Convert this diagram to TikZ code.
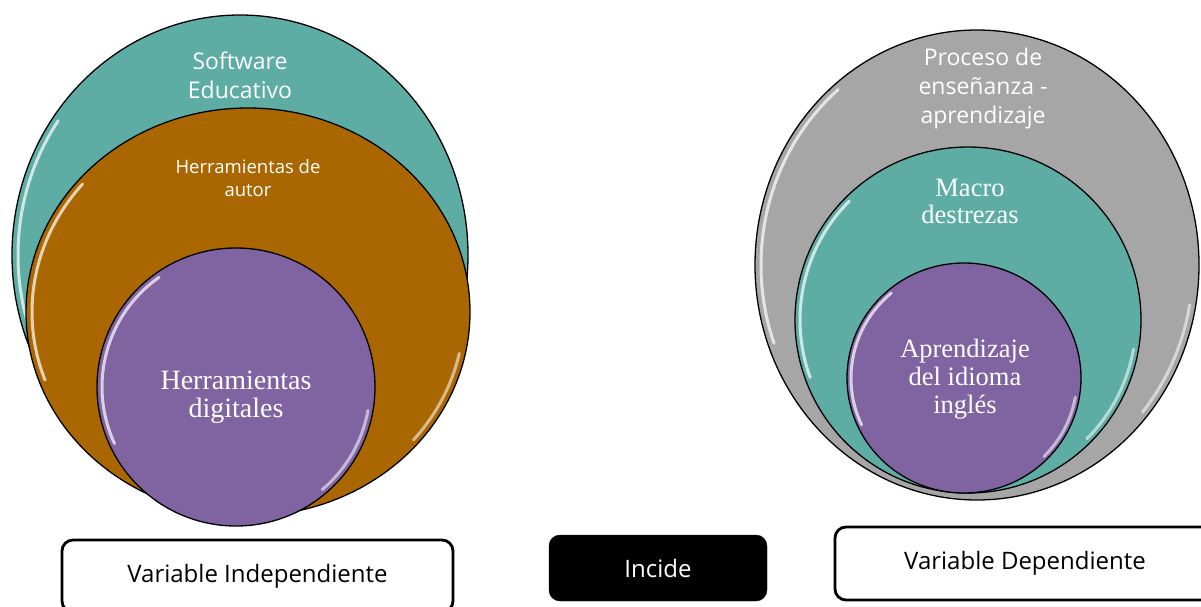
\documentclass[tikz,border=0pt]{standalone}
\usepackage{fontspec}
\setmainfont{Liberation Serif}
\setsansfont{Open Sans}
\usetikzlibrary{shapes.geometric}
\definecolor{tealc}{HTML}{5EADA5}
\definecolor{brownc}{HTML}{AA6600}
\definecolor{purplec}{HTML}{8064A2}
\definecolor{grayc}{HTML}{A6A6A6}
\begin{document}
\begin{tikzpicture}[x=1pt,y=-1pt,
  bubble/.style={ellipse, draw=black, line width=1.3pt, inner sep=0pt},
  sanslbl/.style 2 args={font=\sffamily\fontsize{#1}{#2}\selectfont, text=white, align=center, inner sep=0pt},
  seriflbl/.style 2 args={font=\rmfamily\fontsize{#1}{#2}\selectfont, text=white, align=center, inner sep=0pt},
  gloss/.style={white, line width=3pt, opacity=0.7, line cap=round},
  varbox/.style={draw=black, line width=2.8pt, fill=white, rounded corners=11pt, font=\sffamily\fontsize{24}{28}\selectfont, inner sep=0pt},
  blackbox/.style={draw=black, fill=black, rounded corners=11pt, text=white, font=\sffamily\fontsize{24}{28}\selectfont, inner sep=0pt}]
\useasboundingbox (0,0) rectangle (1201,607);
\clip (0,0) rectangle (1201,607);
\fill[white] (0,0) rectangle (1201,607);

% ---------- left group ----------
\node[bubble, fill=tealc, minimum width=456pt, minimum height=480pt] (sw) at (240,255) {};
\draw[gloss] (sw.center) ++(-200:222 and 234) arc[start angle=-200, end angle=-145, x radius=222, y radius=234];
\node[bubble, fill=brownc, minimum width=444pt, minimum height=408pt] (ha) at (248,312) {};
\draw[gloss] (ha.center) ++(-200:216 and 199) arc[start angle=-200, end angle=-140, x radius=216, y radius=199];
\draw[gloss, opacity=0.55] (ha.center) ++(12:216 and 199) arc[start angle=12, end angle=40, x radius=216, y radius=199];
\node[bubble, fill=purplec, minimum width=278pt, minimum height=278pt] (hd) at (236,387) {};
\draw[gloss] (hd.center) ++(-205:134 and 134) arc[start angle=-205, end angle=-125, x radius=134, y radius=134];
\draw[gloss, opacity=0.55] (hd.center) ++(10:134 and 134) arc[start angle=10, end angle=50, x radius=134, y radius=134];

\node[sanslbl={23}{29}] (swt) at (240,75) {Software\\Educativo};
\node[sanslbl={18.5}{23}] (hat) at (248,178) {Herramientas de\\autor};
\node[seriflbl={28}{28}] (hdt) at (236,397) {Herramientas\\digitales};

% ---------- right group ----------
\node[bubble, fill=grayc, minimum width=444pt, minimum height=470pt] (pe) at (977,265) {};
\draw[gloss] (pe.center) ++(-200:216 and 229) arc[start angle=-200, end angle=-130, x radius=216, y radius=229];
\draw[gloss, opacity=0.55] (pe.center) ++(10:216 and 229) arc[start angle=10, end angle=40, x radius=216, y radius=229];
\node[bubble, fill=tealc, minimum width=346pt, minimum height=346pt] (md) at (968,320) {};
\draw[gloss] (md.center) ++(-200:168 and 168) arc[start angle=-200, end angle=-135, x radius=168, y radius=168];
\draw[gloss, opacity=0.55] (md.center) ++(10:168 and 168) arc[start angle=10, end angle=45, x radius=168, y radius=168];
\node[bubble, fill=purplec, minimum width=234pt, minimum height=230pt] (ai) at (964,378) {};
\draw[gloss] (ai.center) ++(-205:113 and 111) arc[start angle=-205, end angle=-130, x radius=113, y radius=111];
\draw[gloss, opacity=0.55] (ai.center) ++(10:113 and 111) arc[start angle=10, end angle=45, x radius=113, y radius=111];

\node[sanslbl={23}{29}] (pet) at (983,89) {Proceso de\\enseñanza -\\aprendizaje};
\node[seriflbl={26.5}{27}] (mdt) at (970,201) {Macro\\destrezas};
\node[seriflbl={26.5}{28}] (ait) at (965,379) {Aprendizaje\\del idioma\\inglés};

% ---------- bottom boxes ----------
\node[varbox, minimum width=391pt, minimum height=72pt] (vi) at (257.5,576) {Variable Independiente};
\node[blackbox, minimum width=218pt, minimum height=66pt] (inc) at (658,568) {Incide};
\node[varbox, minimum width=380pt, minimum height=73pt] (vd) at (1025,563.5) {Variable Dependiente};
\end{tikzpicture}
\end{document}
